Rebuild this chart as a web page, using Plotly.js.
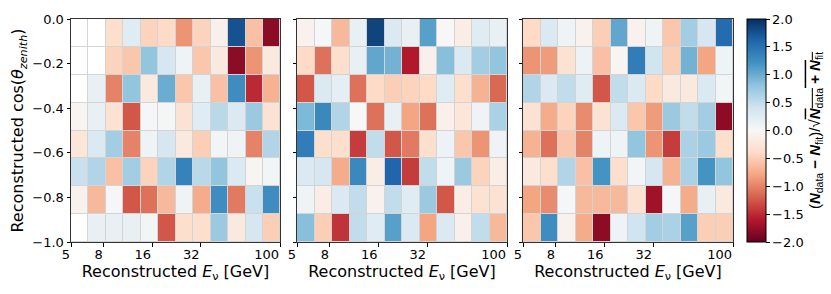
<!DOCTYPE html>
<html><head><meta charset="utf-8">
<script src="https://cdn.plot.ly/plotly-3.0.1.min.js"></script>
<style>body{margin:0;background:#fff}#c{width:831px;height:294px}</style>
</head><body><div id="c"></div>
<script>
// Energy bin edges [GeV] (12 log bins)
const energyEdges = [5.0, 6.42, 8.25, 10.6, 13.6, 17.5, 22.4, 28.8, 37.0, 47.6, 61.1, 78.5, 100.0];
// cos(zenith) bin edges (8 bins)
const cosEdges = [-1.0, -0.875, -0.75, -0.625, -0.5, -0.375, -0.25, -0.125, 0.0];
const xTickVals = [5, 8, 16, 32, 100];
const xTickText = ['5', '8', '16', '32', '100'];
const yTickVals = [-1.0, -0.8, -0.6, -0.4, -0.2, 0.0];

// Residuals, rows listed from top (cos ~ 0) to bottom (cos ~ -1); null = empty bin
const panel1 = [
  [null, null, -0.35, 0.25, -0.45, -0.4, -0.9, -0.45, -0.1, 1.75, -0.6, -1.8],
  [null, null, -0.45, -0.55, 0.8, 0.35, 0.1, -0.55, -0.2, -1.8, -0.9, -0.2],
  [null, 0.15, -1.0, 0.8, -0.2, 1.0, -0.55, 0.15, -0.6, 1.25, -1.5, -0.7],
  [-0.05, 0.15, -0.3, -1.25, 0.02, 0.03, -0.3, 0.25, 0.55, 0.3, 0.75, -0.3],
  [-0.25, 0.3, 0.7, -1.0, 0.1, 0.35, -0.2, -0.5, 0.05, 0.08, -1.0, 0.6],
  [0.45, 0.6, -0.6, 0.7, -0.45, 0.6, 1.35, 0.55, 0.8, 0.3, -0.05, 0.05],
  [-0.08, -0.65, 0.02, -1.25, -1.1, -0.65, 0.08, -0.75, 1.25, -1.05, 0.45, 1.25],
  [null, 0.15, 0.15, 0.15, 0.05, -1.25, -0.35, -0.35, 0.75, -0.2, 0.35, -0.5]
];
const panel2 = [
  [-0.08, 0.02, -0.65, 0.15, 1.85, 0.3, 0.15, 1.1, 0.0, -0.15, 0.25, 0.15],
  [-0.4, -1.1, -0.35, 0.15, 1.05, 0.95, -1.6, -0.1, 0.85, 0.3, 0.7, 0.8],
  [-1.25, 0.3, 0.2, -1.1, -0.4, -0.5, -0.45, -0.4, 0.25, -0.35, -0.7, -1.15],
  [0.9, 1.3, 0.6, 0.0, -1.1, 0.15, -0.8, -1.1, -0.1, -0.25, 0.08, 0.65],
  [1.4, -0.35, -0.35, -1.4, 0.5, -1.25, -1.05, -0.35, 0.12, -0.55, -0.9, 0.08],
  [0.3, 0.35, -0.75, 1.3, -0.15, 1.6, -1.4, 0.5, 0.1, 0.75, -0.45, -0.15],
  [0.1, -0.15, 0.3, 0.5, -0.08, 0.5, 0.25, 0.75, -1.25, -0.15, -0.3, -0.3],
  [0.85, -0.5, -1.45, 0.5, 0.25, 1.1, 0.3, -0.8, 0.3, -0.1, 0.5, -0.65]
];
const panel3 = [
  [-0.4, 0.3, 0.1, -0.08, -0.5, 1.05, -0.08, 0.1, -0.55, 0.7, 0.35, 1.55],
  [-0.9, -0.85, -0.3, 0.12, -0.6, -0.05, 1.4, 0.4, -0.5, 0.95, -0.8, 0.1],
  [0.6, 0.3, 0.5, 0.25, -1.25, 0.5, 0.3, -0.4, -0.2, -0.2, 0.3, 0.05],
  [-0.3, -0.75, -0.45, -0.95, -0.3, 0.3, -0.55, -0.85, 0.75, 0.5, 0.7, -1.8],
  [-0.7, -1.1, -0.55, -1.0, 0.1, 0.1, 0.8, -0.9, -1.4, 0.65, 0.75, -0.35],
  [-0.2, -0.35, 0.6, -0.6, 1.2, -0.35, 0.05, 0.35, -0.7, 0.65, 1.2, 0.8],
  [-0.8, -0.95, 0.02, -0.65, -0.65, -0.65, -0.3, -1.7, 0.02, -0.75, 0.15, -0.2],
  [-0.55, 1.25, -0.08, -0.75, -1.8, 0.1, 0.4, 0.7, 0.65, 1.1, -0.5, -0.5]
];

const RdBu = [
  [0.0, '#67001f'], [0.1, '#b2182b'], [0.2, '#d6604d'], [0.3, '#f4a582'],
  [0.4, '#fddbc7'], [0.5, '#f7f7f7'], [0.6, '#d1e5f0'], [0.7, '#92c5de'],
  [0.8, '#4393c3'], [0.9, '#2166ac'], [1.0, '#053061']
];

const panels = [panel1, panel2, panel3];
const W = 831, H = 294;
const xDom = [[71, 280], [297, 507], [523, 733]].map(d => [d[0] / W, d[1] / W]);
const yDom = [1 - 242 / H, 1 - 19 / H];
const tickFont = {family: 'DejaVu Sans', size: 13, color: '#000'};
const titleFont = {family: 'DejaVu Sans', size: 16, color: '#000'};

const traces = [];
const layout = {
  width: W, height: H,
  margin: {l: 0, r: 0, t: 0, b: 0},
  paper_bgcolor: '#ffffff',
  plot_bgcolor: '#d4d4d4',
  font: {family: 'DejaVu Sans', size: 13, color: '#000'},
  showlegend: false
};

panels.forEach((p, i) => {
  const n = i === 0 ? '' : String(i + 1);
  const zRows = p.slice().reverse();
  const blank = zRows.map(r => r.map(() => 0));
  // white underlay so empty bins show as white cells with grid gaps
  traces.push({
    type: 'heatmap', x: energyEdges, y: cosEdges, z: blank,
    xaxis: 'x' + n, yaxis: 'y' + n,
    colorscale: [[0, '#ffffff'], [1, '#ffffff']], showscale: false,
    xgap: 1, ygap: 1, hoverinfo: 'skip'
  });
  traces.push({
    type: 'heatmap', x: energyEdges, y: cosEdges, z: zRows,
    xaxis: 'x' + n, yaxis: 'y' + n,
    colorscale: RdBu, zmin: -2, zmax: 2,
    xgap: 1, ygap: 1,
    showscale: i === 2,
    colorbar: {
      x: 747 / W, xanchor: 'left', xref: 'paper',
      y: (yDom[0] + yDom[1]) / 2, yanchor: 'middle',
      len: 223, lenmode: 'pixels', thickness: 19, thicknessmode: 'pixels',
      outlinewidth: 1, outlinecolor: '#000',
      tickmode: 'array', tickvals: [-2, -1.5, -1, -0.5, 0, 0.5, 1, 1.5, 2],
      tickformat: '.1f', ticks: 'outside', ticklen: 3.5, tickcolor: '#000',
      tickfont: tickFont,
      xpad: 0, ypad: 0,
      title: {
        text: '(<b><i>N</i></b><sub>data</sub> <b>−</b> <b><i>N</i></b><sub>fit</sub>)/√<span style="text-decoration:overline"><b><i>N</i></b><sub>data</sub> <b>+</b> <b><i>N</i></b><sub>fit</sub></span>',
        side: 'right',
        font: {family: 'Liberation Sans', size: 15, color: '#000'}
      }
    }
  });
  layout['xaxis' + n] = {
    domain: xDom[i], anchor: 'y' + n, type: 'log',
    range: [Math.log10(energyEdges[0]), Math.log10(energyEdges[energyEdges.length - 1])],
    tickmode: 'array', tickvals: xTickVals, ticktext: xTickText,
    ticklabelposition: 'outside left',
    ticks: 'outside', ticklen: 3.5, tickcolor: '#000',
    showline: true, linecolor: '#333', linewidth: 1, mirror: true,
    showgrid: false, zeroline: false,
    tickfont: tickFont,
    title: {text: 'Reconstructed <i>E</i><sub>ν</sub> [GeV]', standoff: 2, font: titleFont}
  };
  layout['yaxis' + n] = {
    domain: yDom, anchor: 'x' + n,
    range: [cosEdges[0], cosEdges[cosEdges.length - 1]],
    tickmode: 'array', tickvals: yTickVals, tickformat: '.1f',
    showticklabels: i === 0,
    ticks: 'outside', ticklen: 3.5, tickcolor: '#000',
    showline: true, linecolor: '#333', linewidth: 1, mirror: true,
    showgrid: false, zeroline: false,
    tickfont: tickFont,
    title: i === 0 ? {text: 'Reconstructed cos(<i>θ</i><sub><i>zenith</i></sub>)', standoff: 4, font: titleFont} : {text: ''}
  };
});

Plotly.newPlot('c', traces, layout, {staticPlot: true, displayModeBar: false});
</script>
</body></html>
